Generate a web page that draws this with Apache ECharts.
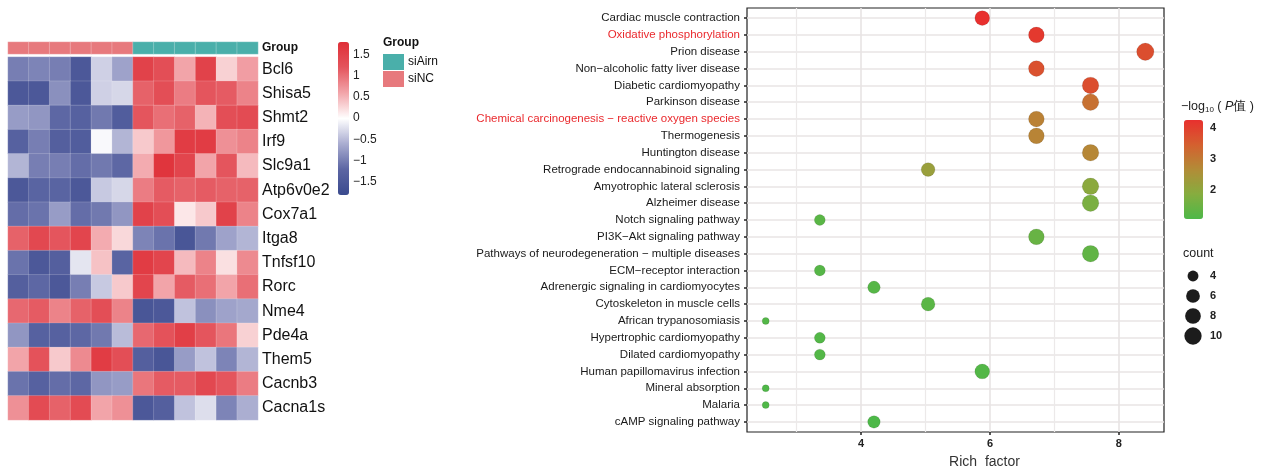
<!DOCTYPE html>
<html>
<head>
<meta charset="utf-8">
<script src="https://cdn.jsdelivr.net/npm/echarts@6/dist/echarts.min.js"></script>
<style>
  html, body { margin: 0; padding: 0; background: #fff; }
  #main { width: 1269px; height: 469px; }
</style>
</head>
<body>
<div id="main"></div>
<script>
// heatmap data (row z-scores)
const genes = ["Bcl6", "Shisa5", "Shmt2", "Irf9", "Slc9a1", "Atp6v0e2", "Cox7a1",
  "Itga8", "Tnfsf10", "Rorc", "Nme4", "Pde4a", "Them5", "Cacnb3", "Cacna1s"];
const samples = ["NC1", "NC2", "NC3", "NC4", "NC5", "NC6", "Airn1", "Airn2", "Airn3", "Airn4", "Airn5", "Airn6"];
const groupNames = ["siNC", "siAirn"];
const sampleGroups = ["siNC", "siNC", "siNC", "siNC", "siNC", "siNC",
  "siAirn", "siAirn", "siAirn", "siAirn", "siAirn", "siAirn"];
const zScores = [
  [-1.0, -0.95, -1.0, -1.5, -0.35, -0.7, 1.5, 1.3, 0.6, 1.5, 0.3, 0.65],
  [-1.5, -1.5, -0.85, -1.5, -0.35, -0.3, 1.1, 1.3, 0.9, 1.2, 1.15, 0.85],
  [-0.75, -0.8, -1.2, -1.3, -1.05, -1.4, 1.2, 1.0, 1.1, 0.5, 1.3, 1.35],
  [-1.3, -1.0, -1.35, -1.4, -0.05, -0.55, 0.35, 0.7, 1.6, 1.6, 0.75, 0.85],
  [-0.55, -1.0, -1.0, -1.15, -1.05, -1.2, 0.55, 1.7, 1.45, 0.6, 1.2, 0.45],
  [-1.5, -1.25, -1.25, -1.5, -0.4, -0.3, 0.9, 1.15, 1.1, 1.15, 1.1, 1.1],
  [-1.15, -1.1, -0.75, -1.15, -1.05, -0.8, 1.5, 1.3, 0.15, 0.35, 1.5, 0.85],
  [1.1, 1.4, 1.2, 1.45, 0.55, 0.25, -0.95, -1.1, -1.55, -1.05, -0.7, -0.55],
  [-1.1, -1.5, -1.35, -0.2, 0.4, -1.25, 1.6, 1.45, 0.45, 0.85, 0.2, 0.8],
  [-1.35, -1.2, -1.5, -1.0, -0.4, 0.35, 1.45, 0.6, 1.15, 1.0, 0.6, 1.0],
  [1.05, 1.15, 0.85, 1.1, 1.3, 0.85, -1.55, -1.5, -0.45, -0.85, -0.7, -0.65],
  [-0.8, -1.3, -1.3, -1.2, -1.05, -0.5, 1.05, 1.25, 1.55, 1.2, 0.95, 0.3],
  [0.6, 1.25, 0.35, 0.8, 1.6, 1.3, -1.35, -1.55, -0.75, -0.45, -0.95, -0.55],
  [-1.1, -1.3, -1.15, -1.2, -0.8, -0.75, 0.95, 1.15, 1.15, 1.4, 1.2, 0.9],
  [0.75, 1.35, 1.1, 1.35, 0.6, 0.75, -1.5, -1.35, -0.45, -0.25, -0.95, -0.6]
];
const heatTicks = [-1.5, -1, -0.5, 0, 0.5, 1, 1.5];

// KEGG enrichment data
const pathways = [
  "Cardiac muscle contraction",
  "Oxidative phosphorylation",
  "Prion disease",
  "Non−alcoholic fatty liver disease",
  "Diabetic cardiomyopathy",
  "Parkinson disease",
  "Chemical carcinogenesis − reactive oxygen species",
  "Thermogenesis",
  "Huntington disease",
  "Retrograde endocannabinoid signaling",
  "Amyotrophic lateral sclerosis",
  "Alzheimer disease",
  "Notch signaling pathway",
  "PI3K−Akt signaling pathway",
  "Pathways of neurodegeneration − multiple diseases",
  "ECM−receptor interaction",
  "Adrenergic signaling in cardiomyocytes",
  "Cytoskeleton in muscle cells",
  "African trypanosomiasis",
  "Hypertrophic cardiomyopathy",
  "Dilated cardiomyopathy",
  "Human papillomavirus infection",
  "Mineral absorption",
  "Malaria",
  "cAMP signaling pathway"
];
const richFactor = [5.88, 6.72, 8.41, 6.72, 7.56, 7.56, 6.72, 6.72, 7.56, 5.04, 7.56, 7.56, 3.36,
  6.72, 7.56, 3.36, 4.2, 5.04, 2.52, 3.36, 3.36, 5.88, 2.52, 2.52, 4.2];
const negLogP = [4.25, 4.1, 3.75, 3.7, 3.75, 3.15, 2.85, 2.8, 2.75, 2.2, 1.95, 1.7, 1.25,
  1.45, 1.35, 1.2, 1.2, 1.25, 1.15, 1.15, 1.15, 1.15, 1.1, 1.1, 1.07];
const geneCount = [7, 8, 10, 8, 9, 9, 8, 8, 9, 6, 9, 9, 4, 8, 9, 4, 5, 6, 3, 4, 4, 7, 3, 3, 5];
const highlighted = ["Oxidative phosphorylation", "Chemical carcinogenesis − reactive oxygen species"];
const countKeys = ["4", "6", "8", "10"];
const richMajor = [4, 6, 8];
const richMinor = [3, 5, 7];
const pTicks = [2, 3, 4];

const FONT = "Liberation Sans";
const heatColors = ["#3a4a8e", "#5b65a3", "#a9acd0", "#ffffff", "#f2a5aa", "#e4555d", "#df2f37"];
const groupColors = { siAirn: "#4aafaa", siNC: "#e7797d" };
const pColors = ["#4db848", "#86ad3f", "#b28c37", "#d4602f", "#e8302e"];

function dotSize(c) {
  return 7 + 10.3 * Math.sqrt((c - 3) / 7);
}

const heatData = [];
zScores.forEach((row, r) => row.forEach((v, c) => heatData.push([c, r, v])));
const groupData = sampleGroups.map((g, c) => [c, 0, groupNames.indexOf(g)]);
const dotData = pathways.map((p, i) => [richFactor[i], i, negLogP[i], geneCount[i]]);
const countData = countKeys.map(k => [0, k, Number(k)]);

const chart = echarts.init(document.getElementById("main"));

const hiddenValueAxis = (gridIndex, min, max) => ({
  type: "value", gridIndex, min, max, show: false
});
const gridLine = { show: true, lineStyle: { color: "#e8e4e4", width: 1.6 } };
const fixed = { outerBoundsMode: "none", containLabel: false };

chart.setOption({
  animation: false,
  textStyle: { fontFamily: FONT },
  grid: [
    { ...fixed, left: 8, top: 57, width: 250, height: 363 },      // 0 heatmap
    { ...fixed, left: 8, top: 42, width: 250, height: 12 },       // 1 group bar
    { ...fixed, left: 747, top: 8, width: 417, height: 424, show: true,
      borderColor: "#222", borderWidth: 1.2, backgroundColor: "#fff" }, // 2 dots
    { ...fixed, left: 338, top: 42, width: 11, height: 153 },     // 3 heat colourbar axis
    { ...fixed, left: 1184, top: 120, width: 19, height: 99 },    // 4 p colourbar axis
    { ...fixed, left: 1185, top: 266, width: 16, height: 80 }     // 5 count key
  ],
  xAxis: [
    { type: "category", gridIndex: 0, data: samples, show: false },
    { type: "category", gridIndex: 1, data: samples, show: false },
    {
      type: "value", gridIndex: 2, min: 2.23, max: 8.7,
      name: "Rich  factor", nameLocation: "middle", nameGap: 23,
      nameTextStyle: { fontSize: 14, color: "#333", padding: [0, 0, 0, 58] },
      axisLine: { show: false, onZero: false },
      axisTick: { show: true, customValues: richMajor, length: 3,
        lineStyle: { color: "#222", width: 1.5 } },
      axisLabel: { customValues: richMajor, fontSize: 11, fontWeight: "bold",
        color: "#222", margin: 6 },
      splitLine: gridLine
    },
    hiddenValueAxis(3, 0, 1),
    hiddenValueAxis(4, 0, 1),
    hiddenValueAxis(5, -1, 1),
    {
      type: "value", gridIndex: 2, min: 2.23, max: 8.7,
      axisLine: { show: false, onZero: false },
      axisTick: { show: false, customValues: richMinor },
      axisLabel: { show: false, customValues: richMinor },
      splitLine: { show: true, lineStyle: { color: "#ece9e9", width: 1.2 } }
    }
  ],
  yAxis: [
    {
      type: "category", gridIndex: 0, data: genes, inverse: true, position: "right",
      axisLine: { show: false }, axisTick: { show: false },
      axisLabel: { fontSize: 16, color: "#111", margin: 4 }
    },
    {
      type: "category", gridIndex: 1, data: ["Group"], position: "right",
      axisLine: { show: false }, axisTick: { show: false },
      axisLabel: { fontSize: 12, fontWeight: "bold", color: "#111", margin: 4 }
    },
    {
      type: "value", gridIndex: 2, min: -0.6, max: 24.6, inverse: true,
      axisLine: { show: false, onZero: false },
      axisTick: { show: true, customValues: pathways.map((p, i) => i), length: 3,
        lineStyle: { color: "#222", width: 1.5 } },
      axisLabel: {
        customValues: pathways.map((p, i) => i),
        fontSize: 11.5, color: "#1a1a1a", margin: 7,
        formatter: v => {
          const name = pathways[Math.round(v)];
          return highlighted.includes(name) ? "{hl|" + name + "}" : name;
        },
        rich: { hl: { color: "#ea2a2e", fontSize: 11.5, fontFamily: FONT } }
      },
      splitLine: gridLine
    },
    {
      type: "value", gridIndex: 3, min: -1.82, max: 1.8, position: "right",
      axisLine: { show: false }, axisTick: { show: false }, splitLine: { show: false },
      axisLabel: { customValues: heatTicks, fontSize: 12, color: "#222", margin: 4,
        formatter: v => String(v).replace("-", "−") }
    },
    {
      type: "value", gridIndex: 4, min: 1.07, max: 4.25, position: "right",
      axisLine: { show: false }, splitLine: { show: false },
      axisTick: { show: true, inside: true, customValues: pTicks, length: 4,
        lineStyle: { color: "#fff", width: 1 } },
      axisLabel: { customValues: pTicks, fontSize: 11, fontWeight: "bold", color: "#222", margin: 7 }
    },
    {
      type: "value", gridIndex: 4, min: 1.07, max: 4.25, position: "left",
      axisLine: { show: false }, splitLine: { show: false }, axisLabel: { show: false },
      axisTick: { show: true, inside: true, customValues: pTicks, length: 4,
        lineStyle: { color: "#fff", width: 1 } }
    },
    {
      type: "category", gridIndex: 5, data: countKeys, inverse: true, position: "right",
      axisLine: { show: false }, axisTick: { show: false },
      axisLabel: { fontSize: 11, fontWeight: "bold", color: "#222", margin: 9 }
    }
  ],
  visualMap: [
    {
      type: "continuous", seriesIndex: 0, dimension: 2, min: -1.82, max: 1.8,
      inRange: { color: heatColors }, left: 338, top: 42, itemWidth: 11, itemHeight: 153,
      padding: 0, calculable: false, text: null, textStyle: { fontSize: 0 }
    },
    {
      type: "piecewise", seriesIndex: 1, dimension: 2,
      pieces: [
        { value: 1, label: "siAirn", color: groupColors.siAirn },
        { value: 0, label: "siNC", color: groupColors.siNC }
      ],
      left: 383, top: 54, itemWidth: 21, itemHeight: 16, itemGap: 1, padding: 0,
      itemSymbol: "rect", textGap: 4,
      textStyle: { fontSize: 12, color: "#111", fontFamily: FONT }
    },
    {
      type: "continuous", seriesIndex: 2, dimension: 2, min: 1.07, max: 4.25,
      inRange: { color: pColors }, left: 1184, top: 120, itemWidth: 19, itemHeight: 99,
      padding: 0, calculable: false, text: null, textStyle: { fontSize: 0 }
    }
  ],
  graphic: [
    {
      type: "text", left: 383, top: 37,
      style: { text: "Group", font: "bold 12px " + FONT, fill: "#111" }
    },
    {
      type: "text", left: 1181, top: 100,
      style: {
        text: "{a|−log}{s|10}{a| ( }{i|P}{a|值 )}",
        rich: {
          a: { fontSize: 12.5, fontFamily: FONT, fill: "#222" },
          s: { fontSize: 8, fontFamily: FONT, fill: "#222", verticalAlign: "bottom", padding: [6, 0, 0, 0] },
          i: { fontSize: 12.5, fontFamily: FONT, fontStyle: "italic", fill: "#222" }
        }
      }
    },
    {
      type: "text", left: 1183, top: 247,
      style: { text: "count", font: "12.5px " + FONT, fill: "#222" }
    }
  ],
  series: [
    {
      type: "heatmap", xAxisIndex: 0, yAxisIndex: 0, data: heatData,
      itemStyle: { borderColor: "rgba(255,255,255,0.35)", borderWidth: 0.5 }
    },
    {
      type: "heatmap", xAxisIndex: 1, yAxisIndex: 1, data: groupData,
      itemStyle: { borderColor: "rgba(255,255,255,0.5)", borderWidth: 0.5 }
    },
    {
      type: "scatter", xAxisIndex: 2, yAxisIndex: 2, data: dotData,
      symbolSize: v => dotSize(v[3]),
      itemStyle: { opacity: 1, borderColor: "rgba(0,0,0,0.12)", borderWidth: 0.8 }
    },
    {
      type: "scatter", xAxisIndex: 5, yAxisIndex: 6, data: countData,
      symbolSize: v => dotSize(v[2]),
      itemStyle: { color: "#1c1c1c", opacity: 1 }
    }
  ]
});
</script>
</body>
</html>
